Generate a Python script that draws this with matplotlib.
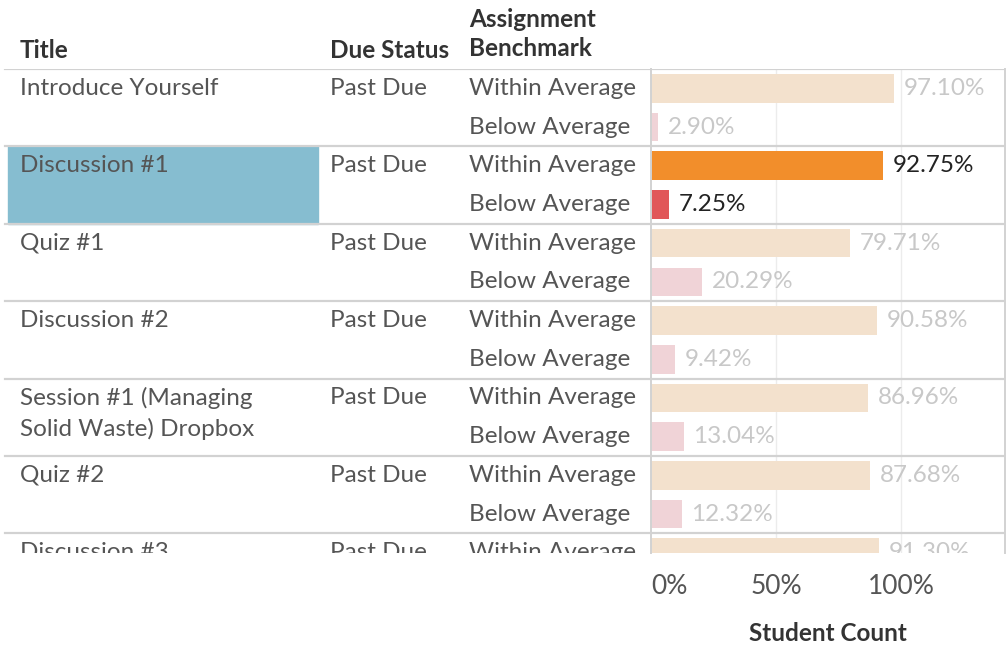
import matplotlib.pyplot as plt

plt.rcParams['font.family'] = ['Lato', 'DejaVu Sans']

# data
TITLES = ['Introduce Yourself', 'Discussion #1', 'Quiz #1', 'Discussion #2',
          'Session #1 (Managing\nSolid Waste) Dropbox', 'Quiz #2', 'Discussion #3']
DUE_STATUS = ['Past Due', 'Past Due', 'Past Due', 'Past Due', 'Past Due', 'Past Due', 'Past Due']
BENCHMARKS = ['Within Average', 'Below Average']
WITHIN = [97.10, 92.75, 79.71, 90.58, 86.96, 87.68, 91.30]
BELOW = [2.90, 7.25, 20.29, 9.42, 13.04, 12.32]
SELECTED = 1

W, H = 1008, 649
fig = plt.figure(figsize=(W / 100, H / 100), dpi=100)

top_px, bot_px = 69, 553
panel_l, panel_r = 651, 1005
sub_h = 38.7
ylim = ((bot_px - top_px) / sub_h - 0.5, -0.5)

# table part (x in pixels)
tax = fig.add_axes([0, 1 - bot_px / H, panel_l / W, (bot_px - top_px) / H])
tax.set_xlim(0, panel_l)
tax.set_ylim(*ylim)
tax.axis('off')

# bar part
ax = fig.add_axes([panel_l / W, 1 - bot_px / H, (panel_r - panel_l) / W, (bot_px - top_px) / H])
ax.set_xlim(0, (panel_r - panel_l) / 250)
ax.set_ylim(*ylim)

TXT = '#555555'
FADE = '#c8c8c8'
FS = 17.5
HFS = 17.5

# header
fig.text(20 / W, 1 - 51 / H, 'Title', fontsize=HFS, fontweight='bold', color='#333333', va='center')
fig.text(330 / W, 1 - 51 / H, 'Due Status', fontsize=HFS, fontweight='bold', color='#333333', va='center')
fig.text(469 / W, 1 - 34 / H, 'Assignment\nBenchmark', fontsize=HFS, fontweight='bold', color='#333333',
         va='center', linespacing=1.35)

# row separators
n_groups = len(TITLES)
for g in range(n_groups + 1):
    y = 2 * g - 0.5
    tax.axhline(y, xmin=5 / panel_l, xmax=1, color='#d2d2d2', lw=1.6, zorder=1)
    ax.axhline(y, color='#d2d2d2', lw=1.6, zorder=1)

# highlight cell
tax.axhspan(2 * SELECTED - 0.5, 2 * SELECTED + 1.5, xmin=8 / panel_l, xmax=318 / panel_l,
            color='#86bdd0', zorder=0)

for g, title in enumerate(TITLES):
    for j, line in enumerate(title.split('\n')):
        tax.text(20, 2 * g + j * 0.8, line, fontsize=FS, color=TXT, va='center', clip_on=True)
    tax.text(330, 2 * g, DUE_STATUS[g], fontsize=FS, color=TXT, va='center', clip_on=True)
    for k, bench in enumerate(BENCHMARKS):
        tax.text(469, 2 * g + k, bench, fontsize=FS, color=TXT, va='center', clip_on=True)

# bars
for g, v in enumerate(WITHIN):
    sel = g == SELECTED
    ax.barh(2 * g, v / 100, height=0.74, color='#f28e2b' if sel else '#f3e1cd', zorder=2)
    ax.annotate(f'{v:.2f}%', (v / 100, 2 * g), xytext=(7, 0), textcoords='offset points',
                fontsize=FS, color='#222222' if sel else FADE, va='center', annotation_clip=False,
                clip_on=True)
for g, v in enumerate(BELOW):
    sel = g == SELECTED
    ax.barh(2 * g + 1, v / 100, height=0.74, color='#e15759' if sel else '#f0d3d7', zorder=2)
    ax.annotate(f'{v:.2f}%', (v / 100, 2 * g + 1), xytext=(7, 0), textcoords='offset points',
                fontsize=FS, color='#222222' if sel else FADE, va='center', annotation_clip=False,
                clip_on=True)

for x in [0.5, 1.0]:
    ax.axvline(x, color='#ececec', lw=1, zorder=0)

for s in ['top', 'bottom']:
    ax.spines[s].set_visible(False)
for s in ['left', 'right']:
    ax.spines[s].set_color('#d2d2d2')
    ax.spines[s].set_linewidth(1.4)

ax.set_yticks([])
ax.set_xticks([0, 0.5, 1.0])
ax.set_xticklabels(['0%', '50%', '100%'], fontsize=19, color=TXT)
ax.get_xticklabels()[0].set_ha('left')
ax.get_xticklabels()[0].set_x(0.012)
ax.tick_params(axis='x', length=0, pad=15)
ax.set_xlabel('Student Count', fontsize=17.5, fontweight='bold', color='#333333', labelpad=17)

fig.savefig('out.png', dpi=100)
